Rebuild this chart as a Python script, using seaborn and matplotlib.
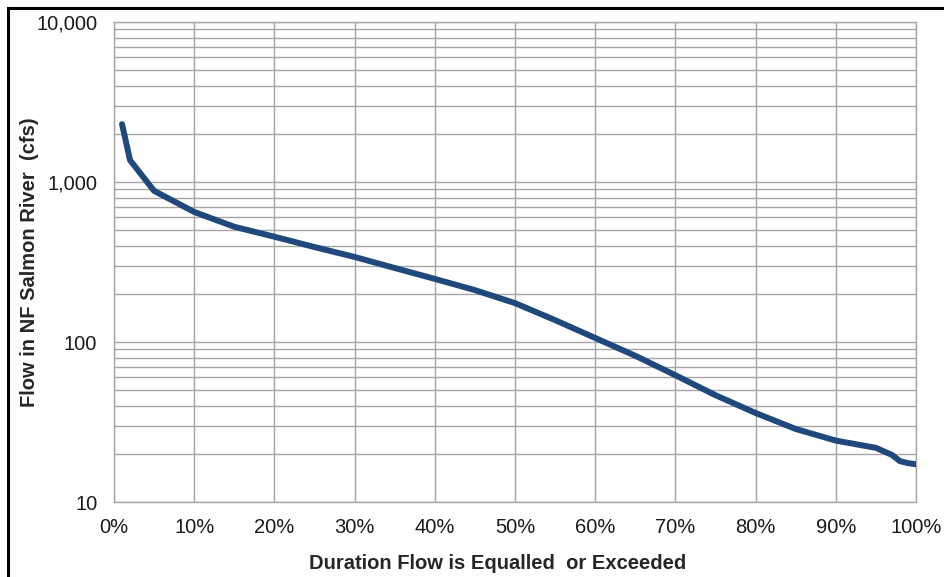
import numpy as np
import pandas as pd
import matplotlib
matplotlib.use("Agg")
import matplotlib.pyplot as plt
from matplotlib.ticker import FixedLocator, LogLocator, NullFormatter, FuncFormatter
from matplotlib.patches import Rectangle
import seaborn as sns

# Flow-duration curve, NF Salmon River
exceedance_pct = [1, 2, 5, 10, 15, 20, 25, 30, 35, 40, 45, 50, 55, 60, 65, 70,
                  75, 80, 85, 90, 95, 97, 98, 99, 100]
flow_cfs = [2300, 1370, 880, 650, 525, 455, 392, 340, 290, 248, 211, 175, 137,
            106, 82, 62, 46.5, 36, 28.6, 24.2, 21.8, 19.7, 18.0, 17.5, 17.2]
y_ticks = [10, 100, 1000, 10000]
x_ticks = [0, 10, 20, 30, 40, 50, 60, 70, 80, 90, 100]

df = pd.DataFrame({"pct": exceedance_pct, "flow": flow_cfs})

sns.set_style("white")
plt.rcParams["font.family"] = ["Liberation Sans", "DejaVu Sans"]

fig = plt.figure(figsize=(9.45, 5.77), dpi=100)
ax = fig.add_axes([114 / 945, 1 - 502 / 577, 802 / 945, 480 / 577])

grid_c = "#a6a6a6"
fs = 14.5
sns.lineplot(data=df, x="pct", y="flow", ax=ax, color="#1f497d", linewidth=4.3,
             solid_capstyle="round", solid_joinstyle="round", zorder=3)

ax.set_yscale("log")
ax.set_ylim(10, 10000)
ax.set_xlim(0, 100)

ax.yaxis.set_major_locator(FixedLocator(y_ticks))
ax.yaxis.set_minor_locator(LogLocator(base=10, subs=np.arange(2, 10)))
ax.yaxis.set_minor_formatter(NullFormatter())
ax.yaxis.set_major_formatter(FuncFormatter(lambda v, p: f"{int(round(v)):,}"))
ax.xaxis.set_major_locator(FixedLocator(x_ticks))
ax.xaxis.set_major_formatter(FuncFormatter(lambda v, p: f"{int(round(v))}%"))

ax.grid(True, which="major", axis="both", color=grid_c, linewidth=1.0)
ax.grid(True, which="minor", axis="y", color=grid_c, linewidth=1.0)
ax.set_axisbelow(True)

for s in ax.spines.values():
    s.set_color(grid_c)
    s.set_linewidth(1.0)

ax.tick_params(axis="both", which="major", direction="out", length=5, width=1,
               color=grid_c, labelsize=fs, labelcolor="#1a1a1a")
ax.tick_params(axis="y", which="major", pad=7)
ax.tick_params(axis="x", which="major", pad=6.5)
ax.tick_params(axis="y", which="minor", length=0)

ax.set_xlabel("Duration Flow is Equalled  or Exceeded", fontsize=fs,
              fontweight="bold")
ax.xaxis.set_label_coords((498 - 114) / 802, -(554 - 502) / 480)
ax.set_ylabel("Flow in NF Salmon River  (cfs)", fontsize=fs,
              fontweight="bold")
ax.yaxis.set_label_coords((39 - 114) / 802, 0.5)

# Frame around the chart area
frame = Rectangle((8 / 945, -0.1), 1.2, 1 - 8 / 577 + 0.1, transform=fig.transFigure,
                  fill=False, edgecolor="black", linewidth=2.2, clip_on=False)
fig.patches.append(frame)

fig.savefig("out.png", dpi=100)
